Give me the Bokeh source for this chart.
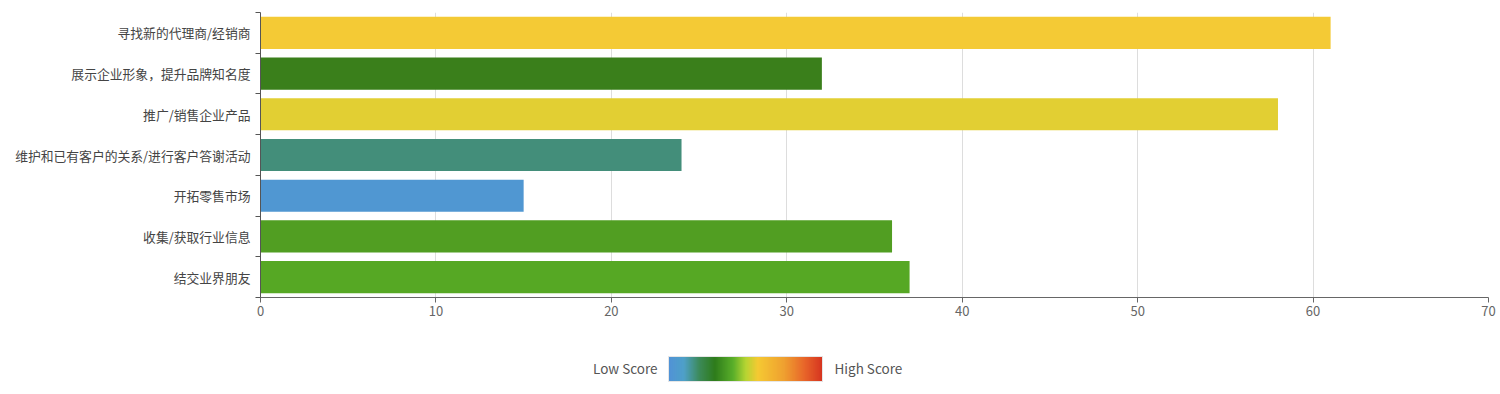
import numpy as np
from bokeh.plotting import figure
from bokeh.layouts import column
from bokeh.models import Range1d, FixedTicker, ColumnDataSource
from bokeh.core.properties import value
from bokeh.embed import file_html
from bokeh.resources import INLINE

# ---- data ----
categories = ["寻找新的代理商/经销商", "展示企业形象，提升品牌知名度", "推广/销售企业产品",
              "维护和已有客户的关系/进行客户答谢活动", "开拓零售市场", "收集/获取行业信息", "结交业界朋友"]
scores = [61, 32, 58, 24, 15, 36, 37]
bar_colors = ["#F4CA35", "#3A7F1B", "#E2CF33", "#438E7A", "#5097D2", "#519E22", "#56A824"]
x_ticks = [0, 10, 20, 30, 40, 50, 60, 70]
legend_low = "Low Score"
legend_high = "High Score"

n = len(categories)
ypos = [n - i for i in range(n)]  # top category at top

FONT = "Noto Sans CJK SC"
W = 1500
H1 = 320

src = ColumnDataSource(dict(y=ypos, v=scores, c=bar_colors, name=categories))

p = figure(width=W, height=H1, output_backend="svg", toolbar_location=None,
           x_range=Range1d(0, 70), y_range=Range1d(0.5, n + 0.5),
           min_border_left=260, min_border_right=12, min_border_top=12, min_border_bottom=23)
p.outline_line_color = None
p.hbar(y="y", right="v", left=0, height=0.79, fill_color="c", line_color=None, source=src)

# x axis
p.xaxis.ticker = FixedTicker(ticks=x_ticks)
p.xaxis.axis_line_color = "#666666"
p.xaxis.major_tick_line_color = "#666666"
p.xaxis.major_tick_out = 5
p.xaxis.major_tick_in = 0
p.xaxis.minor_tick_line_color = None
p.xaxis.major_label_text_color = "#666666"
p.xaxis.major_label_text_font = FONT
p.xaxis.major_label_text_font_size = "13px"
p.xaxis.major_label_standoff = 3

# y axis
p.yaxis.ticker = FixedTicker(ticks=ypos, minor_ticks=[k + 0.5 for k in range(n + 1)])
p.yaxis.major_label_overrides = {yy: nm for yy, nm in zip(ypos, categories)}
p.yaxis.axis_line_color = "#555555"
p.yaxis.major_tick_line_color = None
p.yaxis.minor_tick_line_color = "#555555"
p.yaxis.minor_tick_out = 5
p.yaxis.minor_tick_in = 0
p.yaxis.major_label_text_color = "#444444"
p.yaxis.major_label_text_font = FONT
p.yaxis.major_label_text_font_size = "12.8px"
p.yaxis.major_label_standoff = 4

p.xgrid.ticker = FixedTicker(ticks=x_ticks[1:])
p.xgrid.grid_line_color = "#dddddd"
p.ygrid.grid_line_color = None

# ---- legend (colour scale); frame is aligned with the main frame (page x 260..1488) ----
H2 = 394 - H1
leg = figure(width=W, height=H2, output_backend="svg", toolbar_location=None,
             x_range=Range1d(260, 1488), y_range=Range1d(394, H1),
             min_border_left=260, min_border_right=12,
             min_border_top=0, min_border_bottom=0)
leg.axis.visible = False
leg.grid.visible = False
leg.outline_line_color = None

stops = [0.0, 0.1, 0.2, 0.3, 0.42, 0.5, 0.58, 0.75, 0.88, 1.0]
stop_cols = ["#5092D6", "#4FA0C8", "#3C8A5A", "#2E7B1B", "#5AAF2A", "#B4D432",
             "#F5C933", "#EFA030", "#E8672A", "#D63320"]

def hex2rgb(h):
    return np.array([int(h[i:i + 2], 16) for i in (1, 3, 5)], dtype=float)

rgb = np.array([hex2rgb(c) for c in stop_cols])
gx0, gx1 = 668, 822
nsteps = gx1 - gx0
lefts, rights, cols = [], [], []
for k in range(nsteps):
    t = (k + 0.5) / nsteps
    r = [np.interp(t, stops, rgb[:, j]) for j in range(3)]
    cols.append("#%02x%02x%02x" % tuple(int(round(v)) for v in r))
    lefts.append(gx0 + k)
    rights.append(min(gx0 + k + 1.6, gx1))
leg.quad(left=lefts, right=rights, bottom=381, top=356, fill_color=cols, line_color=None)
leg.quad(left=gx0, right=gx1, bottom=381, top=356, fill_color=None, line_color="#e6e6e6", line_width=1)
leg.text(x=[657], y=[367], text=[legend_low], text_align="right", text_baseline="middle",
         text_font=value(FONT), text_font_size="13.5px", text_color="#555555")
leg.text(x=[834], y=[367], text=[legend_high], text_align="left", text_baseline="middle",
         text_font=value(FONT), text_font_size="13.5px", text_color="#555555")

layout = column(p, leg, spacing=0)
open("out.html", "w").write(file_html(layout, INLINE))
